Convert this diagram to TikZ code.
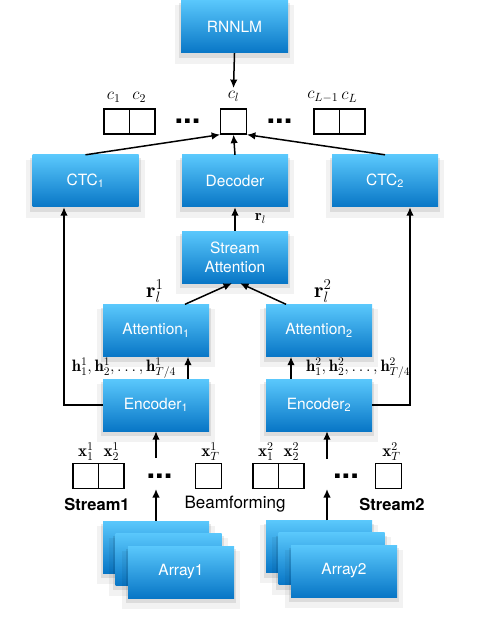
\RequirePackage{fix-cm}
\documentclass[tikz,border=0pt]{standalone}
\usepackage{fontspec}
\setsansfont{TeX Gyre Heros}
\usetikzlibrary{arrows.meta,shadows}

\definecolor{boxtop}{RGB}{90,200,252}
\definecolor{boxbot}{RGB}{8,118,198}

\tikzset{
    block/.style={rectangle,minimum width=106pt,minimum height=52pt,inner sep=0pt,
        top color=boxtop,bottom color=boxbot,text=white,align=center,
        font=\sffamily\fontsize{15.5}{19}\selectfont,
        drop shadow={shadow xshift=0pt,shadow yshift=-7pt,shadow scale=1.12,fill=black,opacity=0.05},
        drop shadow={shadow xshift=0pt,shadow yshift=-4pt,shadow scale=1.04,fill=black,opacity=0.09}},
    cell/.style={rectangle,draw=black,line width=1.3pt,minimum width=25.5pt,minimum height=25pt,inner sep=0pt},
    dots/.style={inner sep=0pt,font=\sffamily\bfseries\fontsize{31}{31}\selectfont},
    arr/.style={-{Latex[length=8.5pt,width=7.5pt]},line width=1.5pt},
    lbl/.style={inner sep=0pt,font=\fontsize{17}{20}\selectfont},
    hlbl/.style={inner sep=0pt,font=\fontsize{16.5}{20}\selectfont},
    tag/.style={inner sep=0pt,font=\sffamily\fontsize{17}{20}\selectfont},
}

\begin{document}
\begin{tikzpicture}[x=1pt,y=-1pt]
    \useasboundingbox (0,0) rectangle (476,620);

    % blocks
    \node[block,minimum width=107pt,minimum height=53pt] (rnnlm) at (234.5,26.5) {RNNLM};
    \node[block] (ctc1) at (85.5,181) {CTC\textsubscript{1}};
    \node[block] (dec) at (235,181) {Decoder};
    \node[block] (ctc2) at (385,181) {CTC\textsubscript{2}};
    \node[block] (satt) at (235,257) {Stream\\Attention};
    \node[block] (att1) at (156,330.5) {Attention\textsubscript{1}};
    \node[block] (att2) at (319,330.5) {Attention\textsubscript{2}};
    \node[block] (enc1) at (156,405) {Encoder\textsubscript{1}};
    \node[block] (enc2) at (319,405) {Encoder\textsubscript{2}};

    % microphone arrays
    \node[block] (arr1a) at (156,547) {};
    \node[block] (arr1b) at (168.5,559) {};
    \node[block] (arr1c) at (181,572) {Array1};
    \node[block] (arr2a) at (319,546.5) {};
    \node[block] (arr2b) at (331.5,558.5) {};
    \node[block] (arr2c) at (344,571) {Array2};

    % output labels
    \node[cell,label={[lbl,label distance=6pt,xshift=-3pt]above:$c_1$}] (c1) at (116.75,121.5) {};
    \node[cell,label={[lbl,label distance=6pt,xshift=-3pt]above:$c_2$}] (c2) at (142.25,121.5) {};
    \node[dots] (cd1) at (187.5,121) {...};
    \node[cell,label={[lbl,name=lcl,inner sep=3pt,label distance=4pt]above:$c_l$}] (cl) at (233.5,121.5) {};
    \node[dots] (cd2) at (279.5,121) {...};
    \node[cell,label={[lbl,label distance=6pt,xshift=-4pt]above:$c_{L-1}$}] (cL1) at (326.75,121.5) {};
    \node[cell,label={[lbl,label distance=6pt,xshift=-3pt]above:$c_L$}] (cL) at (352.25,121.5) {};

    % input frames
    \node[cell,label={[lbl,label distance=2pt]above:$\mathbf{x}_1^1$}] (x11) at (85.75,476) {};
    \node[cell,label={[lbl,label distance=2pt]above:$\mathbf{x}_2^1$}] (x21) at (111.25,476) {};
    \node[dots] (xd1) at (159.5,476) {...};
    \node[cell,label={[lbl,label distance=2pt,xshift=2pt]above:$\mathbf{x}_T^1$}] (xT1) at (208.5,476) {};
    \node[cell,label={[lbl,label distance=2pt]above:$\mathbf{x}_1^2$}] (x12) at (265.75,476) {};
    \node[cell,label={[lbl,label distance=2pt]above:$\mathbf{x}_2^2$}] (x22) at (291.25,476) {};
    \node[dots] (xd2) at (346,476) {...};
    \node[cell,label={[lbl,label distance=2pt,xshift=3pt]above:$\mathbf{x}_T^2$}] (xT2) at (388.5,476) {};

    \node[tag,font=\sffamily\bfseries\fontsize{16.5}{20}\selectfont] (s1) at (97,504) {Stream1};
    \node[tag] (bf) at (235,504) {Beamforming};
    \node[tag,font=\sffamily\bfseries\fontsize{16.5}{20}\selectfont] (s2) at (392,504) {Stream2};

    \coordinate (in1) at (156,458);
    \coordinate (in2) at (327,459);
    \coordinate (bf1) at (156,489);
    \coordinate (bf2) at (327,489);

    % connectors
    \draw[arr] (rnnlm.south) -- (lcl.north);
    \draw[arr] (ctc1.north) -- (cl.south west);
    \draw[arr] (dec.north) -- (cl.south);
    \draw[arr] (ctc2.north) -- (cl.south east);
    \draw[arr] (satt.north) -- (dec.south);
    \draw[arr] ([xshift=29pt]att1.north) -- ([xshift=-3pt]satt.south);
    \draw[arr] ([xshift=-33pt]att2.north) -- ([xshift=5pt]satt.south);
    \draw[arr] ([xshift=32pt]enc1.north) -- ([xshift=32pt]att1.south);
    \draw[arr] ([xshift=-28pt]enc2.north) -- ([xshift=-28pt]att2.south);
    \draw[arr] (enc1.west) -| ([xshift=-21.5pt]ctc1.south);
    \draw[arr] (enc2.east) -| ([xshift=25pt]ctc2.south);
    \draw[arr] (in1) -- (in1 |- enc1.south);
    \draw[arr] (in2) -- (in2 |- enc2.south);
    \draw[arr] (arr1a.north) -- (bf1);
    \draw[arr] ([xshift=8pt]arr2a.north) -- (bf2);

    % vector labels
    \node[lbl,font=\fontsize{15.5}{18}\selectfont,anchor=base west] (rl) at (255,221) {$\mathbf{r}_l$};
    \node[lbl,font=\fontsize{21.5}{24}\selectfont,anchor=base] (rl1) at (155,297) {$\mathbf{r}_l^1$};
    \node[lbl,font=\fontsize{21.5}{24}\selectfont,anchor=base] (rl2) at (323,297) {$\mathbf{r}_l^2$};
    \node[hlbl,anchor=base east] (h1) at (176,371) {$\mathbf{h}_1^1,\mathbf{h}_2^1,\ldots,\mathbf{h}_{T/4}^1$};
    \node[hlbl,anchor=base west] (h2) at (306,371) {$\mathbf{h}_1^2,\mathbf{h}_2^2,\ldots,\mathbf{h}_{T/4}^2$};
\end{tikzpicture}
\end{document}
